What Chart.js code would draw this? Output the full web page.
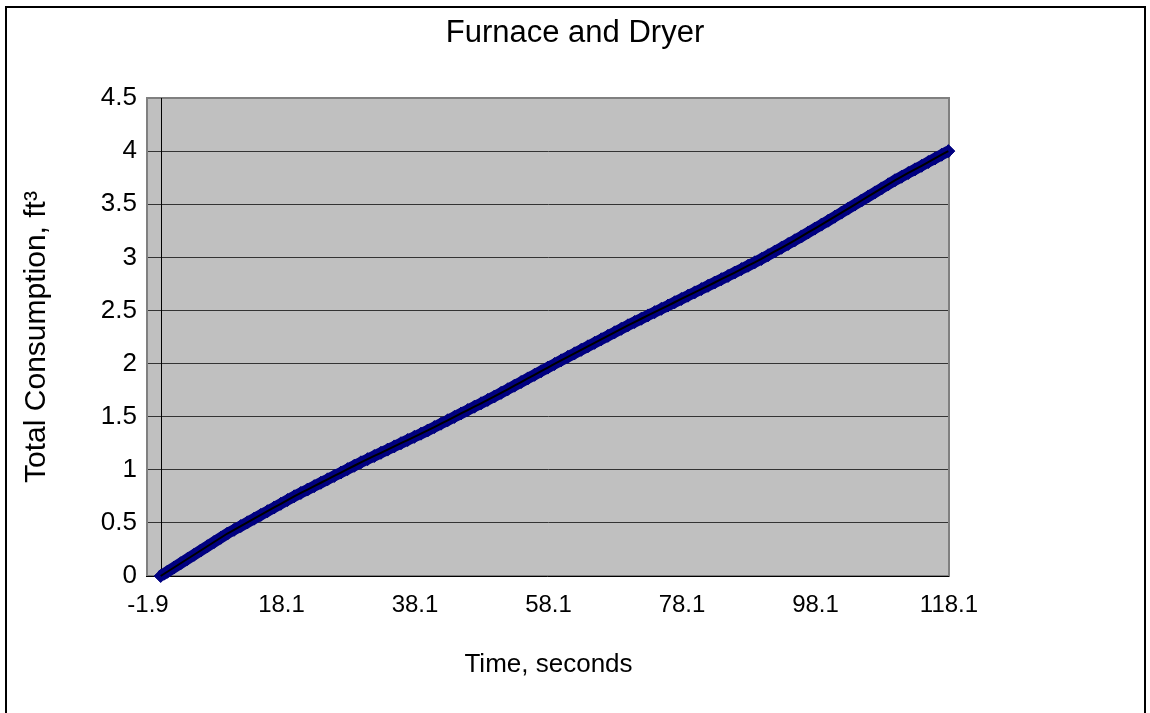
<!DOCTYPE html>
<html>
<head>
<meta charset="utf-8">
<title>Furnace and Dryer</title>
<script src="https://cdn.jsdelivr.net/npm/chart.js@4.4.1/dist/chart.umd.min.js"></script>
<style>
  html, body { margin: 0; padding: 0; background: #ffffff; overflow: hidden; }
  #frame {
    position: absolute; left: 5px; top: 6px; width: 1137px; height: 760px;
    border: 2px solid #000000; box-sizing: content-box;
  }
  #chart { position: absolute; left: 0; top: 0; }
</style>
</head>
<body>
<div id="frame"></div>
<canvas id="chart" width="1150" height="713"></canvas>
<script>
// Elapsed time of each meter reading, seconds
const timeSeconds = [
  0, 1, 2, 3, 4, 5, 6, 7, 8, 9, 10, 11, 12, 13, 14, 15, 16, 17, 18, 19,
  20, 21, 22, 23, 24, 25, 26, 27, 28, 29, 30, 31, 32, 33, 34, 35, 36, 37, 38, 39,
  40, 41, 42, 43, 44, 45, 46, 47, 48, 49, 50, 51, 52, 53, 54, 55, 56, 57, 58, 59,
  60, 61, 62, 63, 64, 65, 66, 67, 68, 69, 70, 71, 72, 73, 74, 75, 76, 77, 78, 79,
  80, 81, 82, 83, 84, 85, 86, 87, 88, 89, 90, 91, 92, 93, 94, 95, 96, 97, 98, 99,
  100, 101, 102, 103, 104, 105, 106, 107, 108, 109, 110, 111, 112, 113, 114, 115, 116, 117, 118
];

// Cumulative gas consumption, cubic feet
const totalConsumption = [
  0.000, 0.040, 0.080, 0.120, 0.160, 0.200, 0.240, 0.280, 0.320, 0.360,
  0.400, 0.435, 0.470, 0.505, 0.540, 0.575, 0.610, 0.645, 0.680, 0.715,
  0.750, 0.782, 0.814, 0.846, 0.878, 0.910, 0.942, 0.974, 1.006, 1.038,
  1.070, 1.100, 1.130, 1.160, 1.190, 1.220, 1.250, 1.280, 1.310, 1.340,
  1.370, 1.402, 1.434, 1.466, 1.498, 1.530, 1.562, 1.594, 1.626, 1.658,
  1.690, 1.724, 1.758, 1.792, 1.826, 1.860, 1.894, 1.928, 1.962, 1.996,
  2.030, 2.063, 2.096, 2.129, 2.162, 2.195, 2.228, 2.261, 2.294, 2.327,
  2.360, 2.391, 2.422, 2.453, 2.484, 2.515, 2.546, 2.577, 2.608, 2.639,
  2.670, 2.701, 2.732, 2.763, 2.794, 2.825, 2.857, 2.889, 2.921, 2.953,
  2.985, 3.020, 3.055, 3.090, 3.125, 3.160, 3.197, 3.234, 3.271, 3.308,
  3.345, 3.383, 3.421, 3.459, 3.497, 3.535, 3.573, 3.611, 3.649, 3.687,
  3.725, 3.759, 3.794, 3.828, 3.862, 3.897, 3.931, 3.966, 4.000
];

// Axis tick values
const xTickValues = [-1.9, 18.1, 38.1, 58.1, 78.1, 98.1, 118.1];
const yTickValues = [0, 0.5, 1, 1.5, 2, 2.5, 3, 3.5, 4, 4.5];

const chartTitle = 'Furnace and Dryer';

const points = timeSeconds.map((t, i) => ({ x: t, y: totalConsumption[i] }));

const FONT = '"Liberation Sans", Arial, sans-serif';

// Grey plot-area fill, its frame, the vertical axis line at t = 0,
// and the chart title centred across the whole canvas
const plotArea = {
  id: 'plotArea',
  beforeDraw(chart) {
    const { ctx, chartArea: a } = chart;
    ctx.save();
    ctx.fillStyle = '#c0c0c0';
    ctx.fillRect(a.left, a.top, a.right - a.left, a.bottom - a.top);
    ctx.fillStyle = '#000000';
    ctx.font = '31px ' + FONT;
    ctx.textAlign = 'center';
    ctx.textBaseline = 'middle';
    ctx.fillText(chartTitle, chart.width / 2, 33);
    ctx.restore();
  },
  beforeDatasetsDraw(chart) {
    const { ctx, chartArea: a, scales } = chart;
    ctx.save();
    ctx.strokeStyle = '#808080';
    ctx.lineWidth = 2;
    ctx.strokeRect(a.left - 1, a.top, a.right - a.left + 1, a.bottom - a.top);
    ctx.strokeStyle = '#000000';
    ctx.lineWidth = 1;
    ctx.beginPath();
    ctx.moveTo(a.left - 2, a.bottom + 0.5);
    ctx.lineTo(a.right, a.bottom + 0.5);
    const x0 = Math.round(scales.x.getPixelForValue(0)) + 0.5;
    ctx.moveTo(x0, a.top);
    ctx.lineTo(x0, a.bottom);
    ctx.stroke();
    ctx.restore();
  }
};

new Chart(document.getElementById('chart'), {
  type: 'line',
  data: {
    datasets: [
      {
        label: 'Trace',
        data: points,
        order: 0,
        borderColor: '#000000',
        borderWidth: 2,
        pointRadius: 0,
        fill: false,
        tension: 0,
        clip: false
      },
      {
        label: 'Readings',
        data: points,
        order: 1,
        showLine: true,
        borderColor: '#000080',
        borderWidth: 11,
        fill: false,
        tension: 0,
        pointStyle: 'rectRot',
        pointRadius: 6.5,
        pointBorderWidth: 1,
        pointBackgroundColor: '#000080',
        pointBorderColor: '#000080',
        clip: false
      }
    ]
  },
  plugins: [plotArea],
  options: {
    responsive: false,
    animation: false,
    events: [],
    layout: { padding: { left: 0, right: 201, top: 98, bottom: 0 } },
    plugins: {
      legend: { display: false },
      tooltip: { enabled: false },
      title: { display: false }
    },
    scales: {
      x: {
        type: 'linear',
        min: -1.9,
        max: 118.1,
        afterBuildTicks(scale) { scale.ticks = xTickValues.map(v => ({ value: v })); },
        afterFit(scale) { scale.height = 137; },
        grid: { display: false, drawTicks: false },
        border: { display: false },
        ticks: {
          color: '#000000',
          padding: 15,
          autoSkip: false,
          maxRotation: 0,
          font: { family: FONT, size: 24 },
          callback: v => Number(v).toFixed(1)
        },
        title: {
          display: true,
          text: 'Time, seconds',
          color: '#000000',
          font: { family: FONT, size: 26 },
          padding: { top: 0, bottom: 33 }
        }
      },
      y: {
        type: 'linear',
        min: 0,
        max: 4.5,
        afterBuildTicks(scale) { scale.ticks = yTickValues.map(v => ({ value: v })); },
        afterFit(scale) { scale.width = 148; },
        grid: { color: '#333333', lineWidth: 1, drawTicks: false },
        border: { display: false },
        ticks: {
          color: '#000000',
          padding: 11,
          font: { family: FONT, size: 26 },
          callback: v => String(v)
        },
        title: {
          display: true,
          text: 'Total Consumption, ft³',
          color: '#000000',
          font: { family: FONT, size: 30 },
          padding: { top: 19, bottom: 0 }
        }
      }
    }
  }
});
</script>
</body>
</html>
